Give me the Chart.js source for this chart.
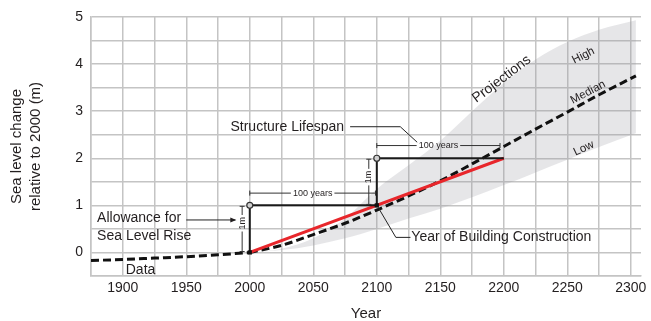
<!DOCTYPE html>
<html>
<head>
<meta charset="utf-8">
<script src="https://cdn.jsdelivr.net/npm/chart.js@4"></script>
<style>
  html, body { margin: 0; padding: 0; background: #fff; }
</style>
</head>
<body>
<canvas id="seaLevelChart" width="651" height="321"></canvas>
<script>
'use strict';

// 観測データ
const dataYears = [1875, 1900, 1925, 1950, 1975, 2000];
const dataLevels = [-0.17, -0.15, -0.12, -0.09, -0.05, 0];

// 予測 (中央値・上限・下限)
const projYears = [2000, 2025, 2050, 2075, 2100, 2125, 2150, 2175, 2200, 2225, 2250, 2275, 2304];
const medianLevels = [0, 0.15, 0.38, 0.62, 0.9, 1.2, 1.52, 1.88, 2.25, 2.62, 2.98, 3.35, 3.75];
const highLevels = [0, 0.08, 0.3, 0.72, 1.35, 1.85, 2.37, 3.0, 3.6, 4.1, 4.47, 4.73, 4.93];
const lowLevels = [0, 0.05, 0.15, 0.3, 0.5, 0.72, 0.93, 1.17, 1.43, 1.7, 1.97, 2.24, 2.53];

// 許容量ライン
const allowanceYears = [2000, 2200];
const allowanceLevels = [0, 2];

// 構造物の寿命
const lifespanYears = [2000, 2000, 2100, 2100, 2200];
const lifespanLevels = [0, 1, 1, 2, 2];
const constructionYears = [2000, 2100];
const constructionLevels = [0, 1];
const designYears = [2000, 2100];
const designLevels = [1, 2];

// 目盛り
const xTickLabels = [1900, 1950, 2000, 2050, 2100, 2150, 2200, 2250, 2300];
const yTickLabels = [0, 1, 2, 3, 4, 5];

const FONT = '"Liberation Sans", Arial, Helvetica, sans-serif';
const INK = '#231f20';
Chart.defaults.font.family = FONT;
Chart.defaults.color = INK;

function toPoints(xs, ys) {
  return xs.map((x, i) => ({x: x, y: ys[i]}));
}

// 注釈
const annotations = {
  id: 'annotations',
  afterDatasetsDraw(chart) {
    const ctx = chart.ctx;
    const px = v => chart.scales.x.getPixelForValue(v);
    const py = v => chart.scales.y.getPixelForValue(v);

    ctx.save();
    ctx.fillStyle = INK;
    ctx.strokeStyle = '#333';
    ctx.lineWidth = 1;
    ctx.textBaseline = 'middle';

    // 100 years
    const hDim = (y1, y2, lvl, label) => {
      const a = px(y1), b = px(y2), yy = py(lvl);
      ctx.font = '9px ' + FONT;
      const w = ctx.measureText(label).width;
      const cx = (a + b) / 2;
      ctx.beginPath();
      ctx.moveTo(a, yy); ctx.lineTo(cx - w / 2 - 2, yy);
      ctx.moveTo(cx + w / 2 + 2, yy); ctx.lineTo(b, yy);
      ctx.moveTo(a, yy - 2.5); ctx.lineTo(a, yy + 2.5);
      ctx.moveTo(b, yy - 2.5); ctx.lineTo(b, yy + 2.5);
      ctx.stroke();
      ctx.textAlign = 'center';
      ctx.fillText(label, cx, yy);
    };
    hDim(2000, 2099, 1.26, '100 years');
    hDim(2100, 2197, 2.27, '100 years');

    // 1m
    const vDim = (yr, l1, l2, tl) => {
      const xx = px(yr), a = py(l1), b = py(l2), t = py(tl);
      ctx.font = '9px ' + FONT;
      const w = ctx.measureText('1m').width;
      ctx.beginPath();
      ctx.moveTo(xx, a); ctx.lineTo(xx, t + w / 2 + 2);
      ctx.moveTo(xx, t - w / 2 - 2); ctx.lineTo(xx, b);
      ctx.moveTo(xx - 2.5, a); ctx.lineTo(xx + 2.5, a);
      ctx.moveTo(xx - 2.5, b); ctx.lineTo(xx + 2.5, b);
      ctx.stroke();
      ctx.save();
      ctx.translate(xx, t);
      ctx.rotate(-Math.PI / 2);
      ctx.textAlign = 'center';
      ctx.fillText('1m', 0, 0);
      ctx.restore();
    };
    vDim(1994, 0.02, 0.98, 0.62);
    vDim(2093.7, 1.02, 1.98, 1.6);

    // テキスト
    ctx.font = '14px ' + FONT;
    ctx.textAlign = 'left';
    ctx.fillText('Structure Lifespan', px(1984.8), py(2.67));
    ctx.fillText('Allowance for', px(1879.8), py(0.72));
    ctx.fillText('Sea Level Rise', px(1879.8), py(0.35));
    ctx.fillText('Year of Building Construction', px(2127.2), py(0.32));
    ctx.textAlign = 'center';
    ctx.fillText('Data', px(1914), py(-0.38));

    // 引き出し線
    ctx.strokeStyle = '#222';
    ctx.beginPath();
    ctx.moveTo(px(2079), py(2.67)); ctx.lineTo(px(2118.5), py(2.67)); ctx.lineTo(px(2131.8), py(2.34));
    ctx.moveTo(px(2126.5), py(0.32)); ctx.lineTo(px(2115), py(0.32)); ctx.lineTo(px(2101), py(0.96));
    ctx.stroke();
    // 矢印
    const ax = px(1988.6), ay = py(0.69);
    ctx.beginPath();
    ctx.moveTo(px(1950), ay); ctx.lineTo(ax, ay);
    ctx.stroke();
    ctx.beginPath();
    ctx.moveTo(ax + 1, ay); ctx.lineTo(ax - 5, ay - 2.5); ctx.lineTo(ax - 5, ay + 2.5);
    ctx.closePath();
    ctx.fill();

    // 回転ラベル
    const rotText = (txt, yr, lvl, deg, size) => {
      ctx.save();
      ctx.translate(px(yr), py(lvl));
      ctx.rotate(deg * Math.PI / 180);
      ctx.font = size + 'px ' + FONT;
      ctx.textAlign = 'center';
      ctx.fillText(txt, 0, 0);
      ctx.restore();
    };
    rotText('Projections', 2198.3, 3.68, -37, 14);
    rotText('High', 2262.6, 4.18, -27, 11.5);
    rotText('Median', 2266.3, 3.4, -28, 11.5);
    rotText('Low', 2263, 2.21, -25, 11.5);

    ctx.restore();
  }
};

const ctx = document.getElementById('seaLevelChart');
const myChart = new Chart(ctx, {
  type: 'line',
  data: {
    datasets: [
      {
        data: toPoints(designYears, designLevels),
        showLine: false,
        pointRadius: 3,
        pointBorderWidth: 1.2,
        pointBorderColor: '#333',
        pointBackgroundColor: '#d0d0d0',
      },
      {
        data: toPoints(constructionYears, constructionLevels),
        showLine: false,
        pointStyle: 'rect',
        pointRadius: 3,
        pointBorderWidth: 0,
        pointBackgroundColor: '#111',
      },
      {
        data: toPoints(lifespanYears, lifespanLevels),
        borderColor: '#1a1a1a',
        borderWidth: 2,
        pointRadius: 0,
      },
      {
        data: toPoints(allowanceYears, allowanceLevels),
        borderColor: '#e8262b',
        borderWidth: 3,
        pointRadius: 0,
      },
      {
        data: toPoints(projYears, medianLevels),
        borderColor: '#111',
        borderWidth: 3,
        borderDash: [8, 4],
        pointRadius: 0,
        cubicInterpolationMode: 'monotone',
      },
      {
        data: toPoints(dataYears, dataLevels),
        borderColor: '#111',
        borderWidth: 3,
        borderDash: [8, 4],
        pointRadius: 0,
        cubicInterpolationMode: 'monotone',
      },
      {
        data: toPoints(projYears, highLevels),
        borderWidth: 0,
        borderColor: 'rgba(0,0,0,0)',
        backgroundColor: 'rgba(150,152,160,0.24)',
        fill: '+1',
        pointRadius: 0,
        cubicInterpolationMode: 'monotone',
      },
      {
        data: toPoints(projYears, lowLevels),
        borderWidth: 0,
        borderColor: 'rgba(0,0,0,0)',
        pointRadius: 0,
        cubicInterpolationMode: 'monotone',
      },
    ]
  },
  options: {
    responsive: false,
    animation: false,
    layout: {
      padding: {top: 17, right: 10, left: 0, bottom: 0}
    },
    scales: {
      x: {
        type: 'linear',
        min: 1875,
        max: 2308,
        afterBuildTicks: function(scale) {
          const ticks = [];
          for (let v = 1875; v <= 2300; v += 25) {
            ticks.push({value: v});
          }
          scale.ticks = ticks;
        },
        afterFit: function(scale) {
          scale.height = 45;
        },
        grid: {
          color: '#c4c4c4',
          lineWidth: 1.5,
          drawTicks: false,
        },
        border: {
          color: '#c4c4c4',
          width: 1.5,
        },
        ticks: {
          autoSkip: false,
          maxRotation: 0,
          padding: 4,
          font: {size: 14},
          color: INK,
          callback: function(value) {
            return xTickLabels.includes(value) ? String(value) : '';
          }
        },
        title: {
          display: true,
          text: 'Year',
          font: {size: 15},
          color: INK,
          padding: {top: 0, bottom: -2},
        }
      },
      y: {
        min: -0.5,
        max: 5,
        afterFit: function(scale) {
          scale.width = 91;
        },
        grid: {
          color: '#c4c4c4',
          lineWidth: 1.5,
          drawTicks: false,
        },
        border: {
          color: '#c4c4c4',
          width: 1.5,
        },
        ticks: {
          stepSize: 0.5,
          padding: 8,
          font: {size: 14},
          color: INK,
          callback: function(value) {
            return yTickLabels.includes(value) ? String(value) : '';
          }
        },
        title: {
          display: true,
          text: ['Sea level change', 'relative to 2000 (m)'],
          font: {size: 15, lineHeight: 1.3},
          color: INK,
          padding: {top: 7},
        }
      }
    },
    plugins: {
      legend: {display: false},
      tooltip: {enabled: false},
    }
  },
  plugins: [annotations]
});
</script>
</body>
</html>
